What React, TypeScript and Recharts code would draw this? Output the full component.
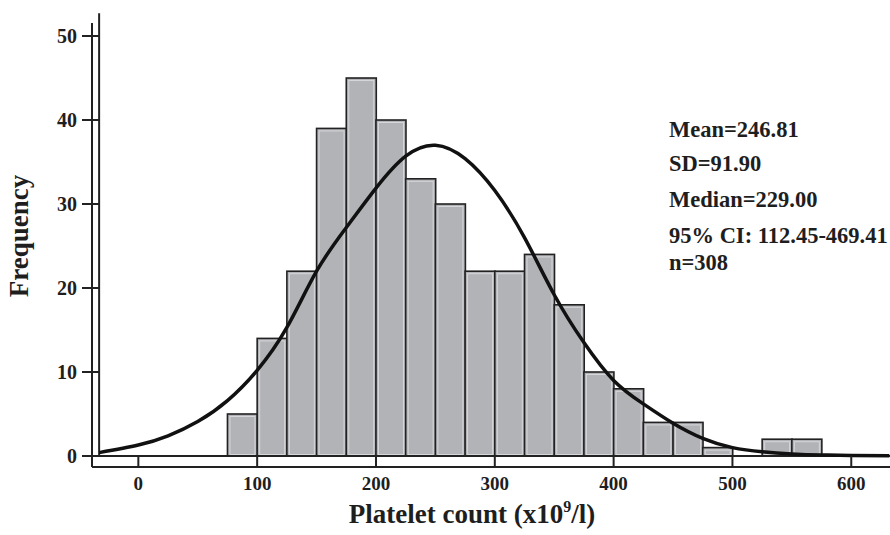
import React from 'react';
import { ComposedChart, Bar, Line, XAxis, YAxis, ReferenceLine } from 'recharts';

// histogram bins (width 25), centre of each bin and its frequency
const binMids = [87.5, 112.5, 137.5, 162.5, 187.5, 212.5, 237.5, 262.5, 287.5, 312.5, 337.5, 362.5, 387.5, 412.5, 437.5, 462.5, 487.5, 512.5, 537.5, 562.5];
const binCounts = [5, 14, 22, 39, 45, 40, 33, 30, 22, 22, 24, 18, 10, 8, 4, 4, 1, 0, 2, 2];

// fitted normal curve
const curveX = [-33, 0, 25, 50, 75, 100, 125, 150, 175, 200, 225, 250, 275, 300, 325, 350, 375, 400, 425, 450, 475, 500, 525, 550, 575, 600, 632];
const curveY = [0.4, 1.3, 2.4, 4.1, 6.6, 10.2, 15.3, 22.0, 27.2, 31.9, 35.7, 37.0, 35.4, 31.6, 26.0, 19.2, 13.5, 9.0, 6.2, 3.9, 2.1, 1.0, 0.5, 0.25, 0.12, 0.07, 0.04];

const xTicks = [0, 100, 200, 300, 400, 500, 600];
const yTicks = [0, 10, 20, 30, 40, 50];

const stats = ['Mean=246.81', 'SD=91.90', 'Median=229.00', '95% CI: 112.45-469.41', 'n=308'];
const statBaselines = [137, 171, 207, 243, 270];

const X_DOMAIN: [number, number] = [-39, 632.6];
const Y_DOMAIN: [number, number] = [-1.31, 51.55];

const FONT = '"Liberation Serif", "DejaVu Serif", serif';
const INK = '#1e1e1e';

const histData = binMids.map((mid, i) => ({ mid, count: binCounts[i] }));
const curveData = curveX.map((x, i) => ({ x, y: curveY[i] }));

const HistBar = (props: any) => {
  const { x, y, width, height } = props;
  if (!height || height <= 0) return null;
  return (
    <g>
      <rect x={x} y={y} width={width} height={height} fill="#b2b3b7" stroke="#222" strokeWidth={1.6} />
      <rect x={x + 2.5} y={y + 2.5} width={Math.max(width - 5, 0)} height={Math.max(height - 4, 0)} fill="none" stroke="#d6d7da" strokeWidth={1} />
    </g>
  );
};

const XTick = (props: any) => {
  const { x, y, payload } = props;
  return (
    <g>
      <line x1={x} x2={x} y1={y - 11} y2={y} stroke="#222" strokeWidth={2} />
      <text x={x} y={y + 23} textAnchor="middle" fontFamily={FONT} fontWeight="bold" fontSize={19} fill={INK}>
        {payload.value}
      </text>
    </g>
  );
};

const YTick = (props: any) => {
  const { x, y, payload } = props;
  return (
    <g>
      <line x1={x - 10} x2={x + 7} y1={y} y2={y} stroke="#222" strokeWidth={2} />
      <text x={x - 15} y={y} dy="0.35em" textAnchor="end" fontFamily={FONT} fontWeight="bold" fontSize={20} fill={INK}>
        {payload.value}
      </text>
    </g>
  );
};

const XTitle = (props: any) => {
  const vb = props.viewBox || { x: 0, y: 0 };
  return (
    <text x={vb.x + 380} y={vb.y + 56} textAnchor="middle" fontFamily={FONT} fontWeight="bold" fontSize={27} fill={INK}>
      Platelet count (x10
      <tspan fontSize={16} dy={-11}>9</tspan>
      <tspan dy={11}>/l)</tspan>
    </text>
  );
};

const YTitle = (props: any) => {
  const vb = props.viewBox || { x: 0, y: 0, height: 0 };
  const cx = vb.x + 28;
  const cy = vb.y + vb.height / 2 - 9;
  return (
    <text x={cx} y={cy} transform={`rotate(-90, ${cx}, ${cy})`} textAnchor="middle" fontFamily={FONT} fontWeight="bold" fontSize={27} fill={INK}>
      Frequency
    </text>
  );
};

export default function App() {
  return (
    <div style={{ position: 'absolute', left: 0, top: 0, width: 890, height: 535, background: '#fff' }}>
      <ComposedChart
        width={890}
        height={535}
        data={histData}
        margin={{ top: 23, right: 0, bottom: 0, left: 0 }}
        barCategoryGap={0}
        barGap={0}
      >
        <XAxis
          xAxisId={0}
          dataKey="mid"
          type="number"
          domain={X_DOMAIN}
          allowDataOverflow
          ticks={xTicks}
          tick={<XTick />}
          tickLine={false}
          tickSize={0}
          tickMargin={0}
          height={68}
          axisLine={{ stroke: '#222', strokeWidth: 2 }}
          label={<XTitle />}
        />
        <XAxis xAxisId="curve" dataKey="x" type="number" domain={X_DOMAIN} allowDataOverflow hide />
        <XAxis
          xAxisId="top"
          orientation="top"
          type="number"
          domain={X_DOMAIN}
          height={0}
          tick={false}
          tickLine={false}
          axisLine={{ stroke: '#333', strokeWidth: 2 }}
        />
        <YAxis
          type="number"
          domain={Y_DOMAIN}
          allowDataOverflow
          ticks={yTicks}
          tick={<YTick />}
          tickLine={false}
          tickSize={0}
          tickMargin={0}
          width={92}
          axisLine={{ stroke: '#222', strokeWidth: 2 }}
          label={<YTitle />}
        />
        <ReferenceLine y={0} stroke="#222" strokeWidth={2} />
        <ReferenceLine
          segment={[{ x: -33, y: 0 }, { x: -33, y: 52.7 }]}
          stroke="#222"
          strokeWidth={2}
          ifOverflow="visible"
        />
        <Bar dataKey="count" shape={<HistBar />} isAnimationActive={false} />
        <Line
          xAxisId="curve"
          data={curveData}
          dataKey="y"
          type="natural"
          stroke="#111"
          strokeWidth={3.5}
          dot={false}
          activeDot={false}
          isAnimationActive={false}
        />
      </ComposedChart>
      <svg width={890} height={535} style={{ position: 'absolute', left: 0, top: 0, pointerEvents: 'none' }}>
        {stats.map((s, i) => (
          <text key={s} x={669} y={statBaselines[i]} fontFamily={FONT} fontWeight="bold" fontSize={22.5} fill={INK}>
            {s}
          </text>
        ))}
      </svg>
    </div>
  );
}
